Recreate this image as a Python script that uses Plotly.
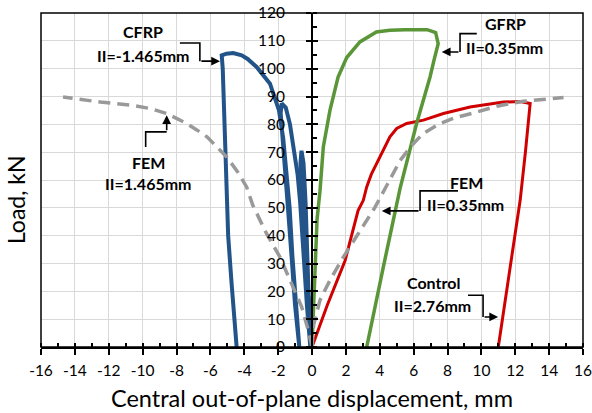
import plotly.graph_objects as go

# ---------------- data ----------------
control_x = [0, 0.9, 1.95, 2.72, 3.03, 3.23, 3.5, 4.02, 4.6, 5.0, 5.59, 6.58, 7.76, 9.33, 11.3, 12.3, 12.88, 12.6, 12.29, 11.7, 11.0]
control_y = [0, 15, 31, 49, 52.7, 57.5, 62, 68.3, 75.5, 78.5, 80.3, 81.5, 83.9, 86.2, 88, 88.2, 87.5, 70, 52.7, 28.7, 0]

gfrp_x = [0, 0.1, 0.18, 0.3, 0.47, 0.67, 1.06, 1.54, 2.05, 2.83, 3.8, 4.6, 5.5, 6.8, 7.3, 7.45, 7.2, 6.97, 6.18, 5.2, 4.21, 3.23]
gfrp_y = [0, 15, 32, 46, 56, 72, 85, 97, 104, 109.6, 113.2, 113.8, 114, 114, 113, 109, 103, 97, 80.4, 57, 28.7, 0]

cfrp_x = [0, -0.2, -0.4, -0.58, -0.68, -0.62, -0.5, -0.38, -0.25, -0.15, -0.1,
          -0.3, -0.5, -0.7, -0.85, -1.05, -1.3, -1.55, -1.79,
          -1.85, -1.75, -1.6, -1.42, -1.2, -1.0, -0.75,
          -0.95, -1.15, -1.32, -1.48, -1.7, -1.95, -2.2, -2.48, -3.27, -3.8, -4.15, -4.65, -5.05, -5.33,
          -5.27, -5.2, -5.14, -5.07, -4.95, -4.75, -4.6, -4.45]
cfrp_y = [0, 18, 38, 55, 66, 70.5, 66, 52, 32, 15, 0,
          15, 35, 52, 62, 70, 80, 86, 87.5,
          84, 75, 65, 50, 32, 15, 0,
          15, 32, 50, 62, 75, 85, 90, 94.6, 100.6, 103.5, 104.8, 105.6, 105.4, 104.8,
          100, 85, 70.7, 55, 40, 23, 10, 0]

fem_r_x = [0, 0.1, 0.47, 1.06, 1.8, 2.7, 3.7, 4.5, 5.2, 5.9, 6.56, 7.56, 8.5, 9.5, 10.9, 12.48, 13.7, 14.85]
fem_r_y = [0, 8, 16.8, 24, 31.8, 40.5, 50, 59, 67, 72.5, 76.7, 80.3, 82.5, 84, 86.5, 88.3, 89.1, 89.6]

fem_l_x = [0, -0.22, -0.61, -1.2, -1.89, -2.68, -3.5, -3.86, -4.4, -5.04, -5.6, -6.2, -6.8, -7.4, -8.58, -9.57, -10.6, -12.5, -14.7]
fem_l_y = [0, 6, 14.4, 22.8, 32.3, 40.7, 51, 57.5, 63, 68.3, 72, 75.5, 78, 80.3, 83.9, 85.7, 86.8, 88, 89.8]

x_ticks = list(range(-16, 17, 2))
y_ticks = list(range(0, 121, 10))

# callout labels: (title, subtitle, title pos, subtitle pos, elbow path, arrow tip)
callout_titles = ["CFRP", "FEM", "GFRP", "FEM", "Control"]
callout_subs = ["II=-1.465mm", "II=1.465mm", "II=0.35mm", "II=0.35mm", "II=2.76mm"]
callout_title_pos = [(-9.98, 113.4), (-9.63, 66.4), (11.4, 116.1), (9.1, 59.0), (7.18, 23.1)]
callout_sub_pos = [(-9.95, 104.8), (-9.63, 58.6), (11.34, 107.5), (9.04, 51.3), (7.12, 15.0)]
callout_paths = [
    [(-7.80, 109.2), (-6.62, 109.2), (-6.62, 102.7)],
    [(-9.82, 71.9), (-9.82, 77.3), (-8.58, 77.3)],
    [(9.73, 112.6), (8.74, 112.6), (8.74, 106.0)],
    [(8.62, 56.1), (6.38, 56.1), (6.38, 48.9)],
    [(9.21, 18.6), (10.1, 18.6), (10.1, 10.8)],
]
callout_tips = [(-5.43, 102.7), (-8.58, 83.3), (7.66, 106.0), (4.12, 48.9), (10.99, 10.8)]

FONT = "Lato, Carlito, 'Liberation Sans', sans-serif"

fig = go.Figure()
fig.add_trace(go.Scatter(x=control_x, y=control_y, mode="lines",
                         line=dict(color="#D00000", width=3), showlegend=False))
fig.add_trace(go.Scatter(x=gfrp_x, y=gfrp_y, mode="lines",
                         line=dict(color="#5A9638", width=3.5), showlegend=False))
fig.add_trace(go.Scatter(x=cfrp_x, y=cfrp_y, mode="lines",
                         line=dict(color="#22548A", width=4), showlegend=False))
for fx, fy in [(fem_l_x, fem_l_y), (fem_r_x, fem_r_y)]:
    fig.add_trace(go.Scatter(x=fx, y=fy, mode="lines",
                             line=dict(color="#999999", width=3.5, dash="12px,7px"),
                             showlegend=False))
# dummy trace for overlay tick axes
fig.add_trace(go.Scatter(x=[None], y=[None], xaxis="x2", yaxis="y2",
                         showlegend=False, hoverinfo="skip"))

shapes = [dict(type="rect", xref="paper", yref="paper", x0=0, y0=0, x1=1, y1=1,
               line=dict(color="black", width=1.5), layer="above")]
annotations = []
for t, s, tp, sp, path, tip in zip(callout_titles, callout_subs, callout_title_pos,
                                   callout_sub_pos, callout_paths, callout_tips):
    annotations.append(dict(x=tp[0], y=tp[1], xref="x", yref="y", text="<b>%s</b>" % t,
                            showarrow=False, xanchor="center", yanchor="middle",
                            font=dict(size=16, color="black", family=FONT)))
    annotations.append(dict(x=sp[0], y=sp[1], xref="x", yref="y", text="<b>%s</b>" % s,
                            showarrow=False, xanchor="center", yanchor="middle",
                            font=dict(size=16, color="black", family=FONT)))
    d = "M %f,%f" % path[0] + "".join(" L %f,%f" % p for p in path[1:])
    shapes.append(dict(type="path", xref="x", yref="y", path=d,
                       line=dict(color="black", width=1.6), layer="above"))
    annotations.append(dict(x=tip[0], y=tip[1], ax=path[-1][0], ay=path[-1][1],
                            xref="x", yref="y", axref="x", ayref="y", text="",
                            showarrow=True, arrowhead=2, arrowsize=1.1, arrowwidth=1.6,
                            arrowcolor="black"))

annotations.append(dict(x=0.5, y=-0.153, xref="paper", yref="paper",
                        text="Central out-of-plane displacement, mm", showarrow=False,
                        xanchor="center", yanchor="middle",
                        font=dict(size=23.5, color="black", family=FONT)))
annotations.append(dict(x=-0.046, y=0.44, xref="paper", yref="paper", text="Load, kN",
                        textangle=-90, showarrow=False, xanchor="center", yanchor="middle",
                        font=dict(size=23, color="black", family=FONT)))

fig.update_layout(
    width=592, height=413,
    margin=dict(l=41, r=9, t=13, b=66, autoexpand=False),
    paper_bgcolor="white", plot_bgcolor="white",
    font=dict(family=FONT, color="black"),
    shapes=shapes, annotations=annotations,
    xaxis=dict(range=[-16, 16], tickvals=x_ticks, ticktext=[str(v) for v in x_ticks],
               automargin=False,
               showgrid=True, gridcolor="#d9d9d9", gridwidth=1.2, zeroline=False,
               showline=True, linecolor="black", linewidth=2,
               ticks="outside", ticklen=6, tickwidth=1.6, tickcolor="black",
               minor=dict(dtick=1, tick0=0, ticks="inside", ticklen=4, tickwidth=1.6,
                          tickcolor="black", showgrid=False),
               tickfont=dict(size=15.5, color="black", family=FONT),
               ticklabelstandoff=2, fixedrange=True),
    yaxis=dict(range=[0, 120], tickvals=y_ticks, ticktext=[str(v) for v in y_ticks],
               anchor="free", position=0.5, side="left", automargin=False,
               showgrid=True, gridcolor="#d9d9d9", gridwidth=1.2, zeroline=False,
               showline=True, linecolor="black", linewidth=2,
               ticks="outside", ticklen=5, tickwidth=1.6, tickcolor="black",
               minor=dict(dtick=5, tick0=0, ticks="inside", ticklen=4, tickwidth=1.6,
                          tickcolor="black", showgrid=False),
               tickfont=dict(size=15.5, color="black", family=FONT),
               ticklabelstandoff=18, fixedrange=True),
    xaxis2=dict(overlaying="x", anchor="y2", range=[-16, 16], tickvals=x_ticks,
                automargin=False,
                showticklabels=False, showgrid=False, zeroline=False, showline=False,
                ticks="inside", ticklen=4, tickwidth=1.6, tickcolor="black", fixedrange=True),
    yaxis2=dict(overlaying="y", anchor="free", position=0.5, side="left", range=[0, 120],
                automargin=False,
                tickvals=y_ticks, showticklabels=False, showgrid=False, zeroline=False,
                showline=False, ticks="inside", ticklen=5, tickwidth=1.6, tickcolor="black",
                fixedrange=True),
)

fig.write_html("out.html")
